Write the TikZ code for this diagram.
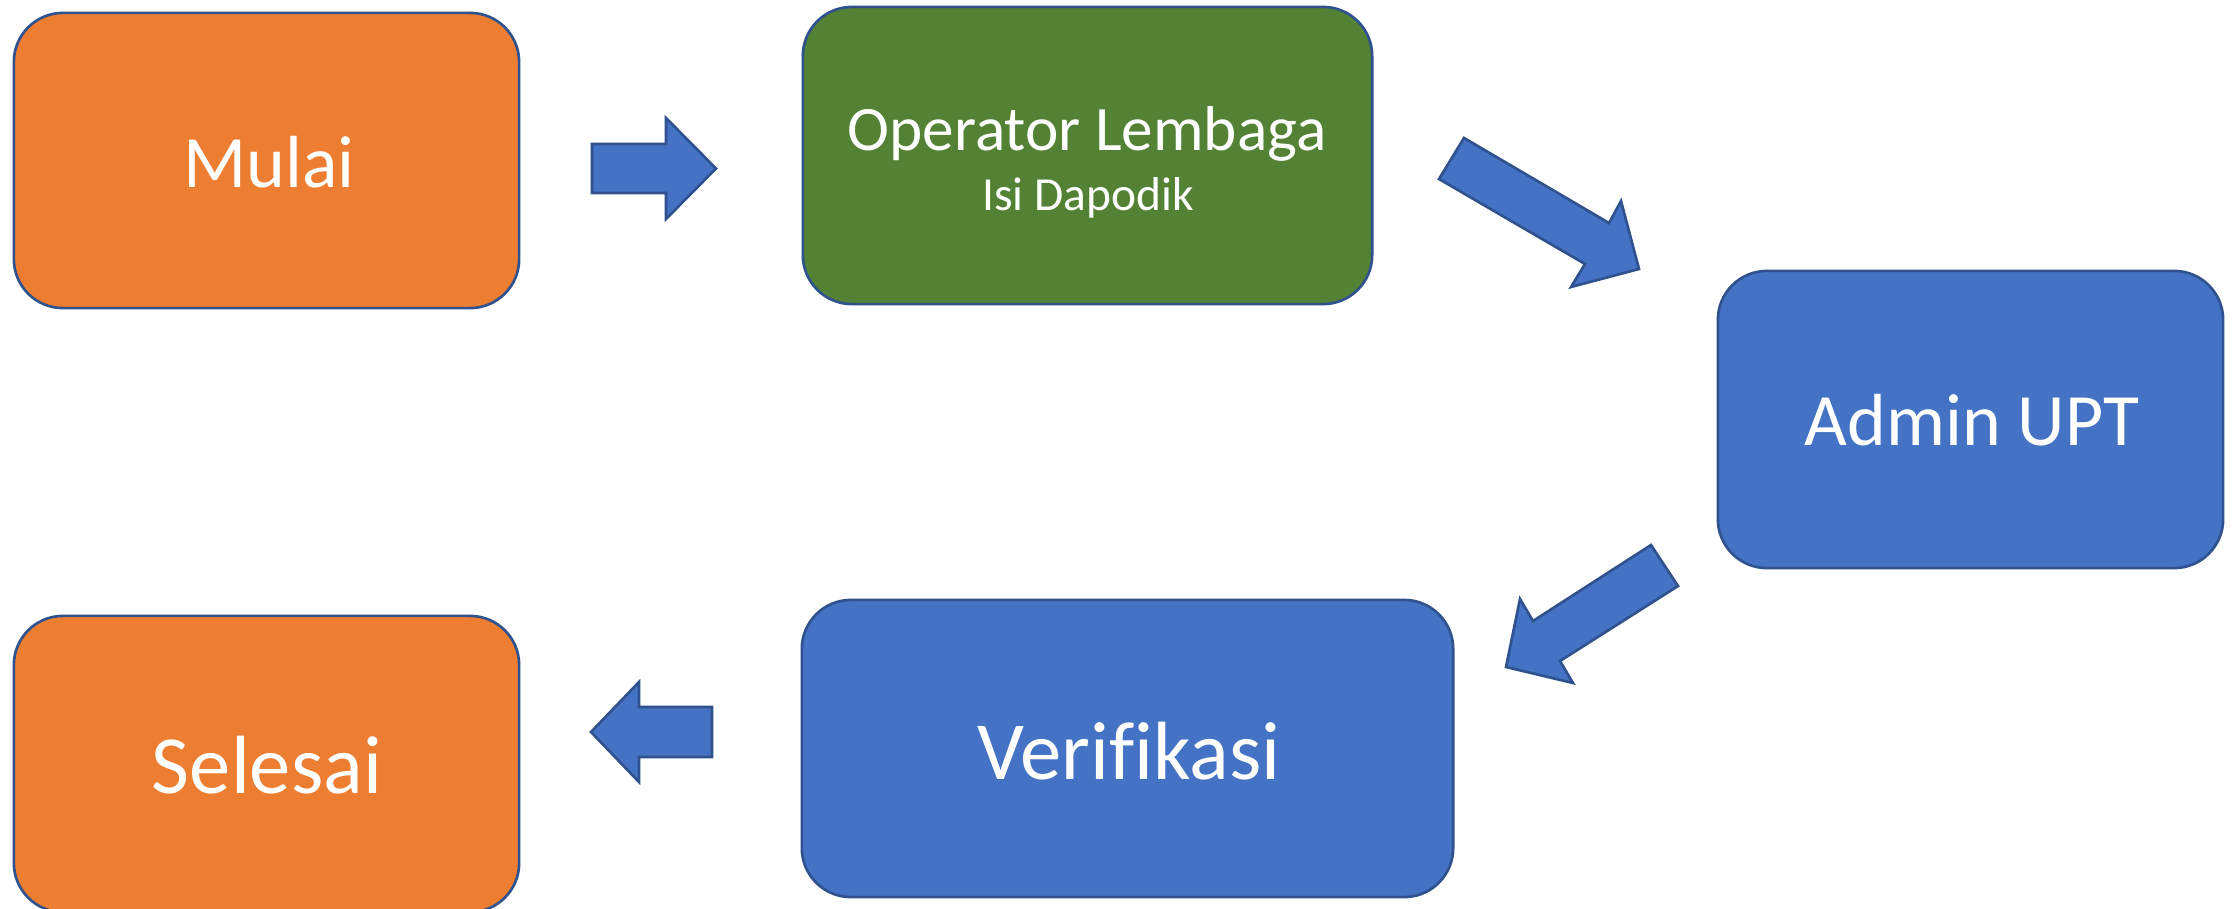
\documentclass[tikz,border=0pt]{standalone}
\usepackage{fontspec}
\setmainfont{Carlito}[Ligatures=CommonOff]
\definecolor{orangeF}{HTML}{ED7D31}
\definecolor{greenF}{HTML}{548235}
\definecolor{blueF}{HTML}{4472C4}
\definecolor{outl}{HTML}{2F528F}
\begin{document}
\begin{tikzpicture}[x=0.01cm,y=-0.01cm,
  box/.style={rectangle, rounded corners=0.49cm, draw=outl, line width=0.75pt, inner sep=0pt},
  lbl/.style={anchor=base, text=white, inner sep=0pt},
  blockarrow/.style={fill=blueF, draw=outl, line width=0.75pt, line join=miter}]
\clip (0,0) rectangle (2236,909);
\fill[white] (0,0) rectangle (2236,909);
% boxes
\node[box, fill=orangeF, minimum width=5.05cm, minimum height=2.95cm] (mulai) at (266.5,160.5) {};
\node[box, fill=greenF, minimum width=5.69cm, minimum height=2.97cm] (operator) at (1087.5,155.5) {};
\node[box, fill=blueF, minimum width=5.05cm, minimum height=2.97cm] (admin) at (1970.5,419.5) {};
\node[box, fill=blueF, minimum width=6.51cm, minimum height=2.97cm] (verif) at (1127.5,748.5) {};
\node[box, fill=orangeF, minimum width=5.05cm, minimum height=2.96cm] (selesai) at (266.5,764) {};
% labels
\node[lbl, font=\fontsize{21}{25}\selectfont] (tmulai) at (269,187) {Mulai};
\node[lbl, font=\fontsize{18}{22}\selectfont] (toperator) at (1087,150) {Operator Lembaga};
\node[lbl, font=\fontsize{13.5}{16}\selectfont] (tisi) at (1088,210) {Isi Dapodik};
\node[lbl, font=\fontsize{21}{25}\selectfont] (tadmin) at (1972,445) {Admin UPT};
\node[lbl, font=\fontsize{23.5}{28}\selectfont] (tverif) at (1129,779) {Verifikasi};
\node[lbl, font=\fontsize{23.5}{28}\selectfont] (tselesai) at (267,793) {Selesai};
% block arrows
\draw[blockarrow] (592,144) -- (666,144) -- (666,118) -- (716,168.5) -- (666,219) -- (666,193) -- (592,193) -- cycle;
\draw[blockarrow] (1464,138) -- (1609,223) -- (1621,201) -- (1639,269) -- (1571,287) -- (1585,264) -- (1439,179) -- cycle;
\draw[blockarrow] (1651,545) -- (1678,586) -- (1560,661) -- (1573,683) -- (1506,667) -- (1520,599) -- (1533,621) -- cycle;
\draw[blockarrow] (712,707) -- (639,707) -- (639,682) -- (591,732) -- (639,782) -- (639,757) -- (712,757) -- cycle;
\end{tikzpicture}
\end{document}
